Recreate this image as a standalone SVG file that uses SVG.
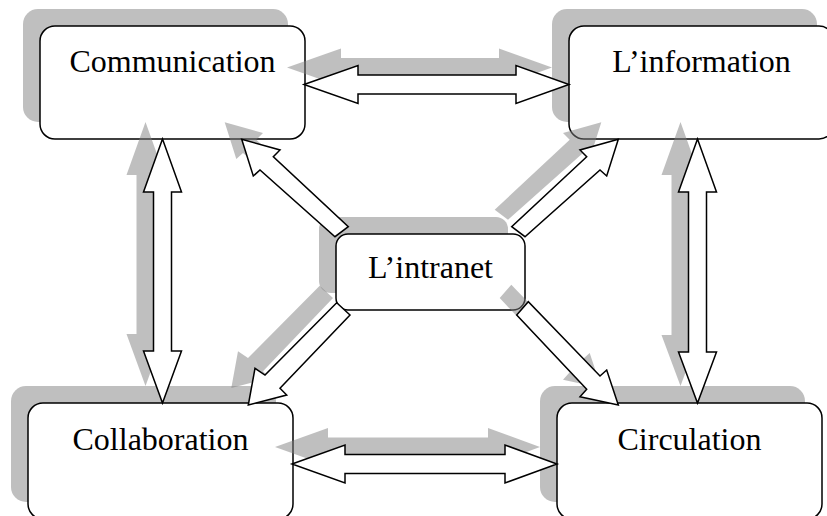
<svg xmlns="http://www.w3.org/2000/svg" xmlns:xlink="http://www.w3.org/1999/xlink" width="827" height="516" viewBox="0 0 827 516">
<style>
.sh{fill:#808080;fill-opacity:0.5;stroke:none}
.box{fill:#ffffff;stroke:#000000;stroke-width:1.5}
.lbl{font-family:"Liberation Serif","Times New Roman",serif;font-size:32px;fill:#000000;text-anchor:middle}
.arr{fill:#ffffff;stroke:#000000;stroke-width:1.5;stroke-linejoin:miter}
</style>
<defs>
<polygon id="aTop" points="304,84.5 358,65.5 358,75 516,75 516,65.5 569,84.5 516,103.5 516,94 358,94 358,103.5"/>
<polygon id="aBot" points="292,464 345,445 345,454.5 505,454.5 505,445 557,464 505,483 505,473.5 345,473.5 345,483"/>
<polygon id="aLeft" points="162.5,139 181.5,192 171.5,192 171.5,351 181.5,351 162.5,403 143.5,351 153.5,351 153.5,192 143.5,192"/>
<polygon id="aRight" points="697.5,139 716.5,192 706.5,192 706.5,352 716.5,352 697.5,403 678.5,352 688.5,352 688.5,192 678.5,192"/>
<polygon id="aUL" points="241.7,139.3 280,150 273.3,156.7 348.3,226.7 335,236.7 260,170 253.3,176"/>
<polygon id="aUR" points="618.3,139.3 580,150 586.7,156.7 511.7,226.7 525,236.7 600,170 606.7,176"/>
<polygon id="aLL" points="248.3,405 255,368.3 265,375 336.7,302.7 350,315 280,388.3 286.7,395"/>
<polygon id="aLR" points="618.3,405 606.7,370 600,376 528.3,301.7 516.7,315 586.7,389.3 580,396.7"/>
</defs>
<g id="communication">
<rect class="sh" x="23" y="9" width="265" height="113" rx="15"/>
<rect class="box" x="40" y="26" width="265" height="113" rx="15"/>
<text class="lbl" x="172.5" y="72">Communication</text>
</g>
<g id="information">
<rect class="sh" x="552" y="9" width="265" height="113" rx="15"/>
<rect class="box" x="569" y="26" width="265" height="113" rx="15"/>
<text class="lbl" x="701.5" y="72">L’information</text>
</g>
<g id="collaboration">
<rect class="sh" x="11" y="386" width="265" height="116" rx="15"/>
<rect class="box" x="28" y="403" width="265" height="116" rx="15"/>
<text class="lbl" x="160.5" y="450">Collaboration</text>
</g>
<g id="circulation">
<rect class="sh" x="540" y="386" width="265" height="116" rx="15"/>
<rect class="box" x="557" y="403" width="265" height="116" rx="15"/>
<text class="lbl" x="689.5" y="450">Circulation</text>
</g>
<g id="intranet">
<rect class="sh" x="319" y="217" width="189" height="76" rx="12"/>
<rect class="box" x="336" y="234" width="189" height="76" rx="12"/>
<text class="lbl" x="430.5" y="278">L’intranet</text>
</g>
<g id="connectors">
<g transform="translate(-17,-17)">
<use xlink:href="#aTop" class="sh"/>
<use xlink:href="#aBot" class="sh"/>
<use xlink:href="#aLeft" class="sh"/>
<use xlink:href="#aRight" class="sh"/>
<use xlink:href="#aUL" class="sh"/>
<use xlink:href="#aUR" class="sh"/>
<use xlink:href="#aLL" class="sh"/>
<use xlink:href="#aLR" class="sh"/>
</g>
<use xlink:href="#aTop" class="arr"/>
<use xlink:href="#aBot" class="arr"/>
<use xlink:href="#aLeft" class="arr"/>
<use xlink:href="#aRight" class="arr"/>
<use xlink:href="#aUL" class="arr"/>
<use xlink:href="#aUR" class="arr"/>
<use xlink:href="#aLL" class="arr"/>
<use xlink:href="#aLR" class="arr"/>
</g>
</svg>
